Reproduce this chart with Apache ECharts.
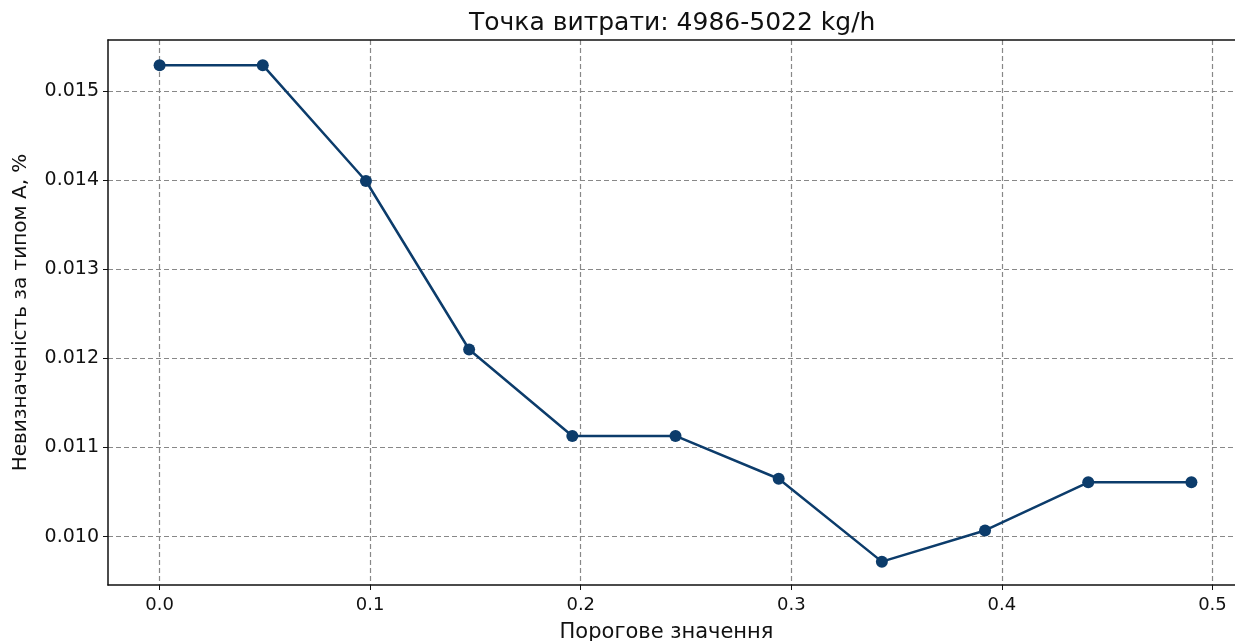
<!DOCTYPE html>
<html>
<head>
<meta charset="utf-8">
<script src="https://cdn.jsdelivr.net/npm/echarts@6/dist/echarts.min.js"></script>
<style>
  html, body { margin: 0; padding: 0; background: #fff; }
  #chart { width: 1235px; height: 641px; }
</style>
</head>
<body>
<div id="chart"></div>
<script>
// порогові значення та невизначеність
var thresholds = [0.0, 0.049, 0.098, 0.147, 0.196, 0.245, 0.294, 0.343, 0.392, 0.441, 0.49];
var uncertainty = [0.01529, 0.01529, 0.01399, 0.01210, 0.01113, 0.01113, 0.01065, 0.00972, 0.01007, 0.01061, 0.01061];
var xTicks = [0.0, 0.1, 0.2, 0.3, 0.4, 0.5];
var yTicks = [0.010, 0.011, 0.012, 0.013, 0.014, 0.015];

var font = 'DejaVu Sans';
var xMin = -0.0245, xMax = 0.5145;
var chart = echarts.init(document.getElementById('chart'));

var points = [];
for (var i = 0; i < thresholds.length; i++) {
    points.push([thresholds[i], uncertainty[i]]);
}

var option = {
    animation: false,
    backgroundColor: '#fff',
    title: {
        text: 'Точка витрати: 4986-5022 kg/h',
        left: 464,
        top: 6,
        textStyle: { fontFamily: font, fontSize: 25, fontWeight: 'normal', color: '#111' }
    },
    grid: {
        left: 108,
        right: -8,
        top: 40,
        bottom: 56,
        outerBoundsMode: 'none',
        containLabel: false,
        show: false
    },
    xAxis: [{
        type: 'value',
        min: xMin,
        max: xMax,
        name: 'Порогове значення',
        nameLocation: 'middle',
        nameGap: 37,
        nameTextStyle: { fontFamily: font, fontSize: 21, color: '#111', padding: [0, 18, 0, 0] },
        axisLine: { show: true, onZero: false, lineStyle: { color: '#111', width: 1.5 } },
        axisTick: { show: true, length: 5, customValues: xTicks, lineStyle: { color: '#111' } },
        axisLabel: {
            customValues: xTicks,
            fontFamily: font, fontSize: 18, color: '#111', margin: 11,
            formatter: function (v) { return v.toFixed(1); }
        },
        splitLine: { show: true, lineStyle: { color: '#888', type: [5, 3], width: 1.2 } }
    }, {
        // верхня рамка
        type: 'value',
        position: 'top',
        min: xMin,
        max: xMax,
        axisLine: { show: true, onZero: false, lineStyle: { color: '#111', width: 1.5 } },
        axisTick: { show: false },
        axisLabel: { show: false },
        splitLine: { show: false }
    }],
    yAxis: {
        type: 'value',
        min: 0.009458,
        max: 0.015572,
        name: 'Невизначеність за типом А, %',
        nameLocation: 'middle',
        nameGap: 77,
        nameTextStyle: { fontFamily: font, fontSize: 20, color: '#111' },
        axisLine: { show: true, onZero: false, lineStyle: { color: '#111', width: 1.5 } },
        axisTick: { show: true, length: 5, customValues: yTicks, lineStyle: { color: '#111' } },
        axisLabel: {
            customValues: yTicks,
            fontFamily: font, fontSize: 19, color: '#111', margin: 9,
            formatter: function (v) { return v.toFixed(3); }
        },
        splitLine: { show: true, lineStyle: { color: '#888', type: [5, 3], width: 1.2 } }
    },
    series: [{
        type: 'line',
        data: points,
        symbol: 'circle',
        symbolSize: 12,
        showAllSymbol: true,
        lineStyle: { color: '#0c3c6b', width: 2.5 },
        itemStyle: { color: '#0c3c6b' }
    }]
};

chart.setOption(option);
</script>
</body>
</html>
